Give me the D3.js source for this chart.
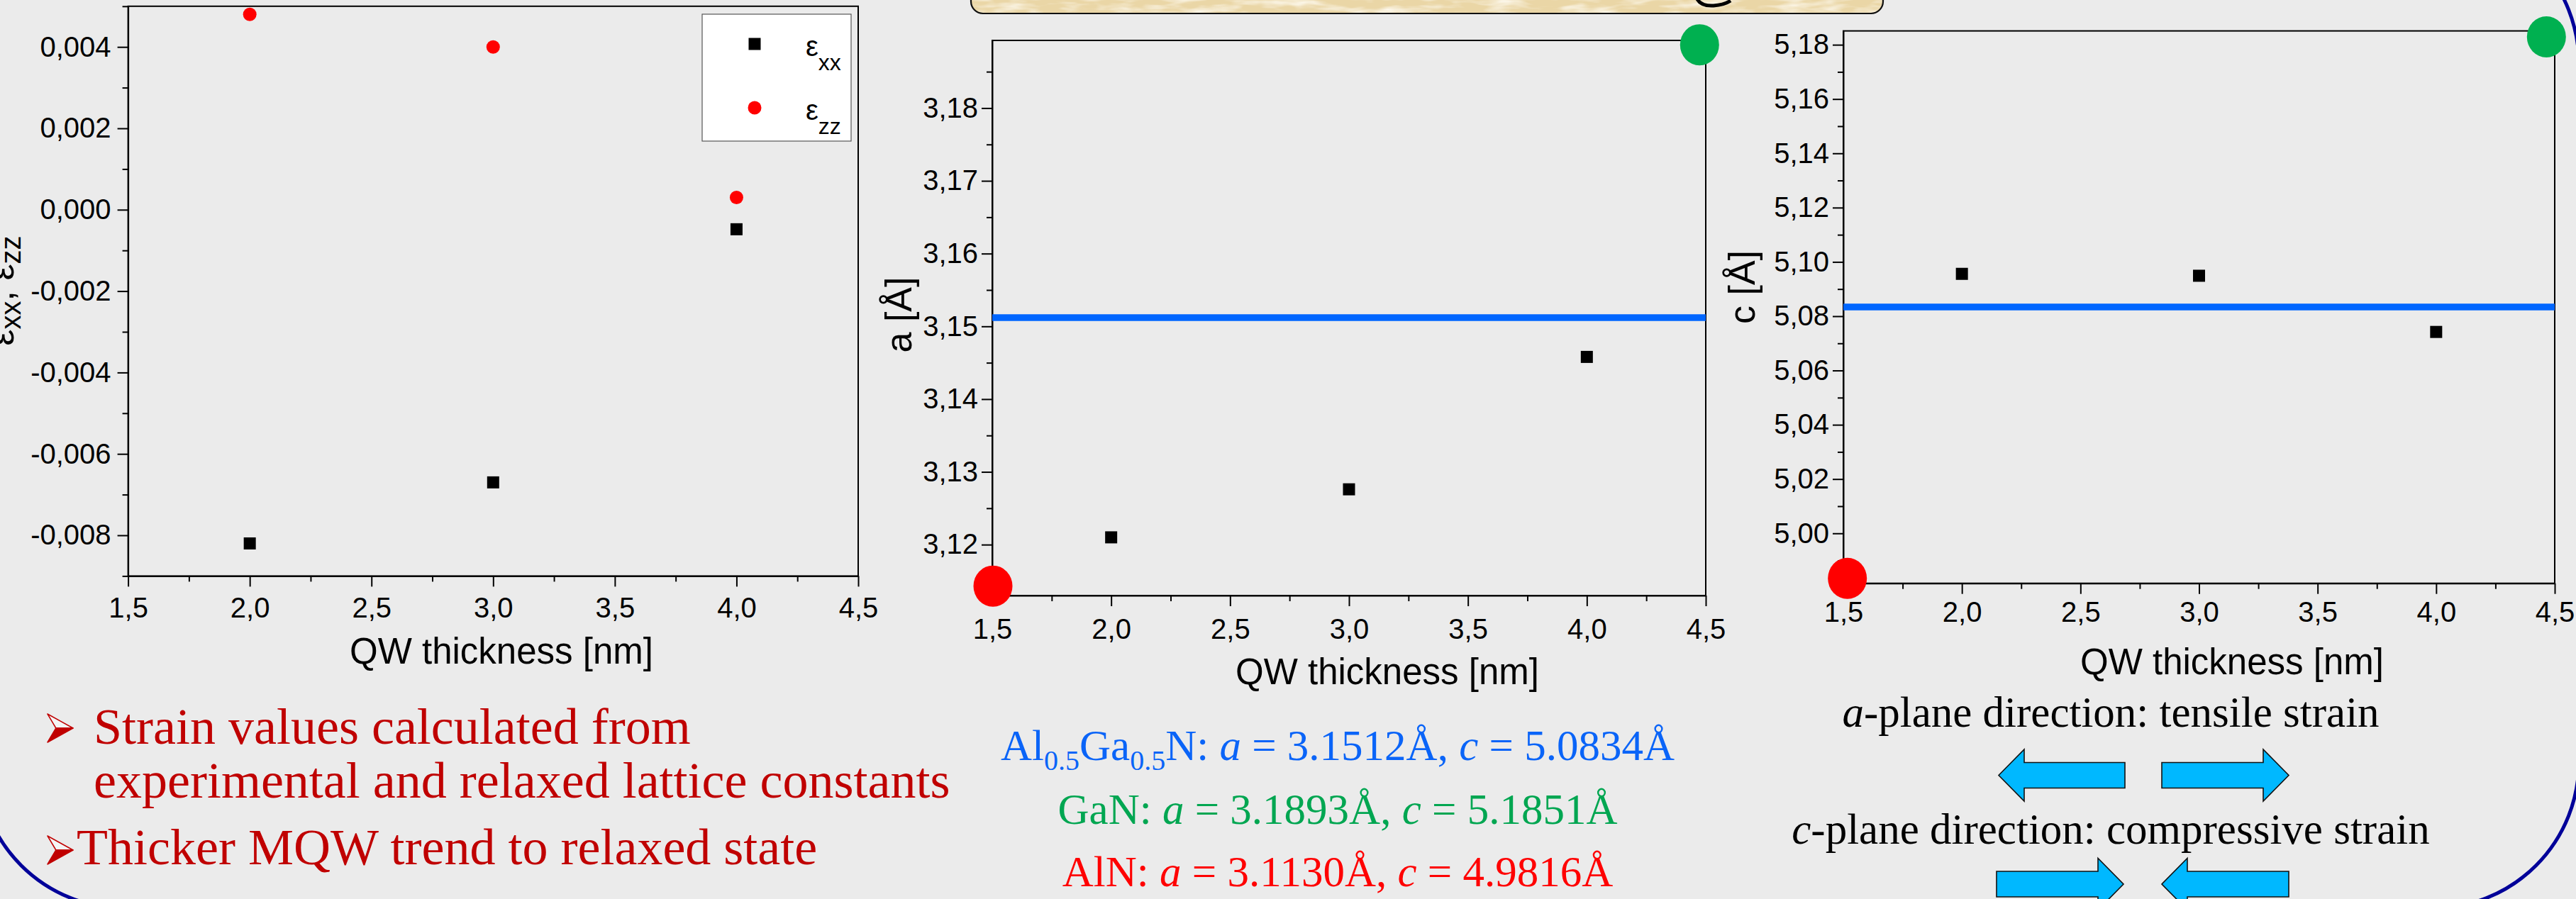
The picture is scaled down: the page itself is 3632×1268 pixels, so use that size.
<!DOCTYPE html>
<html><head><meta charset="utf-8">
<script src="https://cdn.jsdelivr.net/npm/d3@7"></script>
<style>
html,body{margin:0;padding:0;background:#ebebeb;overflow:hidden;}
svg{display:block;}
</style></head><body>
<script>
// ---------------- DATA ----------------
const thickness = [2.0, 3.0, 4.0];
const epsXX = [-0.0082, -0.0067, -0.00048];
const epsZZ = [0.0048, 0.0040, 0.0003];
const latticeA = [3.1210, 3.1276, 3.1458];
const latticeC = [5.0956, 5.0949, 5.0742];

const materials = ["Al0.5Ga0.5N", "GaN", "AlN"];
const constA = [3.1512, 3.1893, 3.1130];
const constC = [5.0834, 5.1851, 4.9816];

// AlN (bottom-left) and GaN (top-right) reference dots as placed on the panels
const aRefX = [1.503, 4.474];
const aRefY = [3.1143, 3.1887];
const cRefX = [1.517, 4.465];
const cRefY = [4.9834, 5.1829];

const xTicks = [1.5, 2.0, 2.5, 3.0, 3.5, 4.0, 4.5];
const xMinor = [1.75, 2.25, 2.75, 3.25, 3.75, 4.25];
const strainTicks = [-0.008, -0.006, -0.004, -0.002, 0, 0.002, 0.004];
const strainMinor = [-0.009, -0.007, -0.005, -0.003, -0.001, 0.001, 0.003, 0.005];
const aTicks = [3.12, 3.13, 3.14, 3.15, 3.16, 3.17, 3.18];
const aMinor = [3.115, 3.125, 3.135, 3.145, 3.155, 3.165, 3.175, 3.185];
const cTicks = [5.00, 5.02, 5.04, 5.06, 5.08, 5.10, 5.12, 5.14, 5.16, 5.18];
const cMinor = [4.99, 5.01, 5.03, 5.05, 5.07, 5.09, 5.11, 5.13, 5.15, 5.17];

const legendLabels = ["xx", "zz"];
const bulletLines = ["Strain values calculated from", "experimental and relaxed lattice constants", "Thicker MQW trend to relaxed state"];
const strainNotes = ["-plane direction: tensile strain", "-plane direction: compressive strain"];
const strainNoteAxes = ["a", "c"];
const matColors = ["#0a64f8", "#00a651", "#ff0000"];

// ---------------- SETUP ----------------
const W = 3632, H = 1268;
const svg = d3.select("body").append("svg").attr("width", W).attr("height", H);
svg.append("rect").attr("width", W).attr("height", H).attr("fill", "#ebebeb");
const loc = d3.formatLocale({decimal: ",", thousands: ".", grouping: [3], currency: ["", ""], minus: "-"});
const SANS = "'Liberation Sans', Arial, sans-serif";
const SERIF = "'Liberation Serif', 'Times New Roman', serif";

const defs = svg.append("defs");
const flt = defs.append("filter").attr("id", "parch").attr("x", 0).attr("y", 0).attr("width", 1).attr("height", 1);
flt.append("feTurbulence").attr("type", "fractalNoise").attr("baseFrequency", "0.02 0.09").attr("numOctaves", 3).attr("seed", 5).attr("result", "n");
flt.append("feColorMatrix").attr("in", "n").attr("type", "matrix")
  .attr("values", "0 0 0 0 0.99  0 0 0 0 0.96  0 0 0 0 0.88  2.2 0 0 0 -0.9");

// slide frame (rounded border)
svg.append("rect").attr("x", -30.4).attr("y", -116.6).attr("width", 3666.4).attr("height", 1397.6)
  .attr("rx", 206).attr("fill", "none").attr("stroke", "#000099").attr("stroke-width", 5);

// title banner (bottom edge)
const bannerPath = "M1369,-10 V2 A17,17 0 0 0 1386,19 H2638 A17,17 0 0 0 2655,2 V-10 Z";
defs.append("clipPath").attr("id", "bclip").append("path").attr("d", bannerPath);
svg.append("path").attr("d", bannerPath).attr("fill", "#ead6a6");
svg.append("rect").attr("x", 1369).attr("y", -10).attr("width", 1286).attr("height", 30)
  .attr("filter", "url(#parch)").attr("clip-path", "url(#bclip)");
svg.append("path").attr("d", bannerPath).attr("fill", "none").attr("stroke", "#111").attr("stroke-width", 2.2);
svg.append("path").attr("d", "M2393,-1 Q2399,9 2416,8 Q2431,7 2440,1").attr("fill", "none").attr("stroke", "#000").attr("stroke-width", 5);

// ---------------- PANELS ----------------
function styleAxis(g) {
  g.selectAll("line,path").attr("stroke", "#000").attr("stroke-width", 2);
  g.selectAll("text").attr("font-family", SANS).attr("font-size", 40).attr("fill", "#000");
  g.attr("font-family", SANS).attr("font-size", 40);
}

function panel(c) {
  const x = d3.scaleLinear().domain([1.5, 4.5]).range([c.left, c.right]);
  const y = d3.scaleLinear().domain(c.yDomain).range([c.bottom, c.top]);
  const g = svg.append("g");
  g.append("rect").attr("x", c.left).attr("y", c.top).attr("width", c.right - c.left).attr("height", c.bottom - c.top)
    .attr("fill", "none").attr("stroke", "#000").attr("stroke-width", 2);

  const gxm = g.append("g").attr("transform", `translate(0,${c.bottom})`)
    .call(d3.axisBottom(x).tickValues(xMinor).tickSize(8).tickSizeOuter(0).tickFormat(""));
  gxm.select(".domain").remove(); styleAxis(gxm);
  const gx = g.append("g").attr("transform", `translate(0,${c.bottom})`)
    .call(d3.axisBottom(x).tickValues(xTicks).tickSize(15).tickSizeOuter(0).tickPadding(c.xPad).tickFormat(loc.format(".1f")));
  styleAxis(gx);

  const gym = g.append("g").attr("transform", `translate(${c.left},0)`)
    .call(d3.axisLeft(y).tickValues(c.yMinor).tickSize(8).tickSizeOuter(0).tickFormat(""));
  gym.select(".domain").remove(); styleAxis(gym);
  const gy = g.append("g").attr("transform", `translate(${c.left},0)`)
    .call(d3.axisLeft(y).tickValues(c.yTicks).tickSize(15).tickSizeOuter(0).tickPadding(c.yPad).tickFormat(loc.format(c.yFmt)));
  styleAxis(gy);

  g.append("text").attr("x", c.xtX).attr("y", c.xtY).attr("text-anchor", "middle")
    .attr("font-family", SANS).attr("font-size", 51).text("QW thickness [nm]");
  return {x, y, g};
}

// ---- Panel 1: strain ----
const p1 = panel({left: 180.6, right: 1210, top: 8.8, bottom: 812.4, yDomain: [-0.009, 0.005],
  yTicks: strainTicks, yMinor: strainMinor, yFmt: ".3f", xPad: 15, yPad: 9, xtX: 707, xtY: 936});
{
  const t = p1.g.append("text").attr("transform", "translate(19,410) rotate(-90)").attr("text-anchor", "middle")
    .attr("font-family", SANS).attr("font-size", 52);
  t.append("tspan").text("ε");
  t.append("tspan").attr("font-size", 40).attr("dy", 10).text("xx");
  t.append("tspan").attr("dy", -10).text(", ε");
  t.append("tspan").attr("font-size", 40).attr("dy", 10).text("zz");
}
p1.g.selectAll("rect.exx").data(thickness).join("rect").attr("class", "exx")
  .attr("x", d => p1.x(d) - 8.5).attr("y", (d, i) => p1.y(epsXX[i]) - 8.5).attr("width", 17).attr("height", 17).attr("fill", "#000");
p1.g.selectAll("circle.ezz").data(thickness).join("circle").attr("class", "ezz")
  .attr("cx", d => p1.x(d)).attr("cy", (d, i) => p1.y(epsZZ[i])).attr("r", 9.5).attr("fill", "#ff0000");
// legend
{
  const lg = p1.g.append("g");
  lg.append("rect").attr("x", 990).attr("y", 20).attr("width", 210).attr("height", 179)
    .attr("fill", "#fff").attr("stroke", "#555").attr("stroke-width", 1.2);
  const rows = [62, 152];
  lg.append("rect").attr("x", 1064 - 8.5).attr("y", rows[0] - 8.5).attr("width", 17).attr("height", 17).attr("fill", "#000");
  lg.append("circle").attr("cx", 1064).attr("cy", rows[1]).attr("r", 9.5).attr("fill", "#ff0000");
  legendLabels.forEach((s, i) => {
    const t = lg.append("text").attr("x", 1136).attr("y", rows[i] + 16.5).attr("font-family", SANS).attr("font-size", 40);
    t.append("tspan").text("ε");
    t.append("tspan").attr("font-size", 32).attr("dy", 20).text(s);
  });
}

// ---- Panel 2: a lattice ----
const p2 = panel({left: 1399, right: 2405, top: 57, bottom: 840, yDomain: [constA[2], constA[1]],
  yTicks: aTicks, yMinor: aMinor, yFmt: ".2f", xPad: 18, yPad: 5, xtX: 1956, xtY: 965});
p2.g.append("text").attr("transform", "translate(1285,444) rotate(-90)").attr("text-anchor", "middle")
  .attr("font-family", SANS).attr("font-size", 52).text("a [Å]");
p2.g.append("line").attr("x1", p2.x(1.5)).attr("x2", p2.x(4.5)).attr("y1", p2.y(constA[0])).attr("y2", p2.y(constA[0]))
  .attr("stroke", "#0066ff").attr("stroke-width", 9.5);
p2.g.selectAll("rect.pa").data(thickness).join("rect").attr("class", "pa")
  .attr("x", d => p2.x(d) - 8.5).attr("y", (d, i) => p2.y(latticeA[i]) - 8.5).attr("width", 17).attr("height", 17).attr("fill", "#000");
p2.g.selectAll("ellipse.ref").data(aRefX).join("ellipse").attr("class", "ref")
  .attr("cx", d => p2.x(d)).attr("cy", (d, i) => p2.y(aRefY[i])).attr("rx", 27.5).attr("ry", 29)
  .attr("fill", (d, i) => i === 0 ? "#ff0000" : "#00b050");

// ---- Panel 3: c lattice ----
const p3 = panel({left: 2599, right: 3602, top: 43.6, bottom: 822.7, yDomain: [constC[2], constC[1]],
  yTicks: cTicks, yMinor: cMinor, yFmt: ".2f", xPad: 11, yPad: 5, xtX: 3147, xtY: 951});
p3.g.append("text").attr("transform", "translate(2474,405) rotate(-90)").attr("text-anchor", "middle")
  .attr("font-family", SANS).attr("font-size", 52).text("c [Å]");
p3.g.append("line").attr("x1", p3.x(1.5)).attr("x2", p3.x(4.5)).attr("y1", p3.y(constC[0])).attr("y2", p3.y(constC[0]))
  .attr("stroke", "#0066ff").attr("stroke-width", 9.5);
p3.g.selectAll("rect.pc").data(thickness).join("rect").attr("class", "pc")
  .attr("x", d => p3.x(d) - 8.5).attr("y", (d, i) => p3.y(latticeC[i]) - 8.5).attr("width", 17).attr("height", 17).attr("fill", "#000");
p3.g.selectAll("ellipse.ref").data(cRefX).join("ellipse").attr("class", "ref")
  .attr("cx", d => p3.x(d)).attr("cy", (d, i) => p3.y(cRefY[i])).attr("rx", 27.5).attr("ry", 29)
  .attr("fill", (d, i) => i === 0 ? "#ff0000" : "#00b050");

// ---------------- TEXT BLOCKS ----------------
// bullets (3D arrowhead)
function bullet(x0, y0) {
  const w = 36, h = 40;
  svg.append("path").attr("d", `M${x0},${y0} L${x0 + w},${y0 + h / 2} L${x0 + w * 0.33},${y0 + h / 2} Z`)
    .attr("fill", "#f4f4f4").attr("stroke", "#c00000").attr("stroke-width", 1.5).attr("stroke-linejoin", "round");
  svg.append("path").attr("d", `M${x0 + w * 0.33},${y0 + h / 2} L${x0 + w},${y0 + h / 2} L${x0},${y0 + h} Z`)
    .attr("fill", "#c00000").attr("stroke", "#c00000").attr("stroke-width", 1.5).attr("stroke-linejoin", "round");
}
bullet(67, 1007);
bullet(67, 1179);
const bx = [132, 132, 108], by = [1048.5, 1125, 1219];
bulletLines.forEach((s, i) => {
  svg.append("text").attr("x", bx[i]).attr("y", by[i]).attr("font-family", SERIF).attr("font-size", 72)
    .attr("fill", "#c00000").text(s);
});

// lattice constants
const matY = [1071.5, 1161.5, 1250];
materials.forEach((m, i) => {
  const t = svg.append("text").attr("x", 1886).attr("y", matY[i]).attr("text-anchor", "middle")
    .attr("font-family", SERIF).attr("font-size", 61).attr("fill", matColors[i]);
  if (i === 0) {
    t.append("tspan").text("Al");
    t.append("tspan").attr("font-size", 40).attr("dy", 14).text("0.5");
    t.append("tspan").attr("dy", -14).text("Ga");
    t.append("tspan").attr("font-size", 40).attr("dy", 14).text("0.5");
    t.append("tspan").attr("dy", -14).text("N: ");
  } else {
    t.append("tspan").text(m + ": ");
  }
  t.append("tspan").attr("font-style", "italic").text("a");
  t.append("tspan").text(" = " + constA[i].toFixed(4) + "Å, ");
  t.append("tspan").attr("font-style", "italic").text("c");
  t.append("tspan").text(" = " + constC[i].toFixed(4) + "Å");
});

// strain direction notes
const noteY = [1025, 1190];
strainNotes.forEach((s, i) => {
  const t = svg.append("text").attr("x", 2976).attr("y", noteY[i]).attr("text-anchor", "middle")
    .attr("font-family", SERIF).attr("font-size", 61).attr("fill", "#000");
  t.append("tspan").attr("font-style", "italic").text(strainNoteAxes[i]);
  t.append("tspan").text(s);
});

// block arrows
function arrow(tail, tip, cy) {
  const dir = Math.sign(tip - tail), hl = 36, bh = 18, hh = 36.5;
  const hb = tip - dir * hl;
  const pts = [[tail, cy - bh], [hb, cy - bh], [hb, cy - hh], [tip, cy], [hb, cy + hh], [hb, cy + bh], [tail, cy + bh]];
  svg.append("path").attr("d", "M" + pts.map(p => p.join(",")).join("L") + "Z")
    .attr("fill", "#00b8ff").attr("stroke", "#111").attr("stroke-width", 1.6);
}
arrow(2996, 2818, 1093.5);
arrow(3048, 3227, 1093.5);
arrow(2815, 2994, 1247);
arrow(3227, 3048, 1247);
</script>
</body></html>
